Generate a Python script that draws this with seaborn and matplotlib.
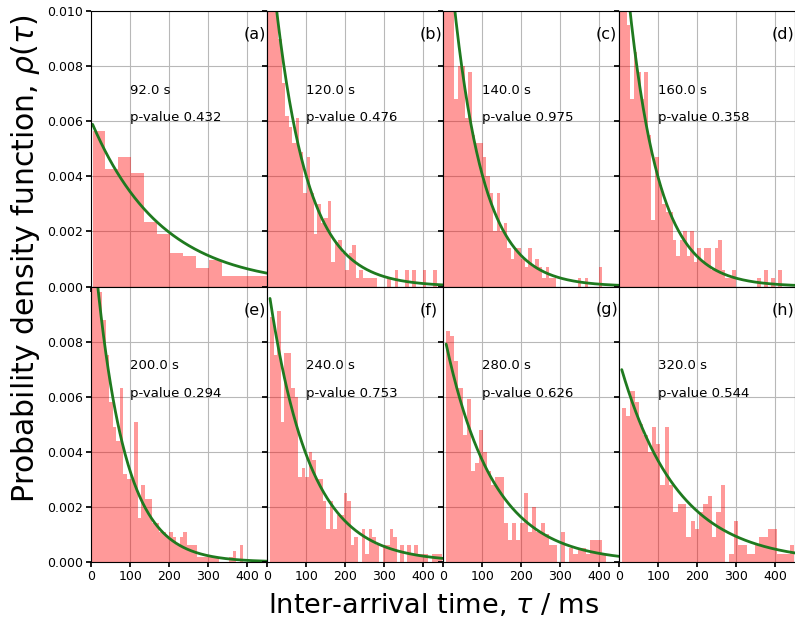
import numpy as np
import pandas as pd
import matplotlib
matplotlib.use("Agg")
import matplotlib.pyplot as plt
import seaborn as sns
from matplotlib.ticker import FormatStrFormatter

# Global style
sns.set_theme(style="whitegrid", rc={
    "axes.edgecolor": "black",
    "axes.linewidth": 0.8,
    "grid.color": "#b8b8b8",
    "grid.linewidth": 0.8,
    "xtick.bottom": True,
    "ytick.left": True,
    "xtick.major.size": 3.5,
    "ytick.major.size": 3.5,
    "xtick.color": "black",
    "ytick.color": "black",
    "text.color": "black",
    "axes.labelcolor": "black",
})
plt.rcParams["font.family"] = ["DejaVu Sans"]
plt.rcParams["mathtext.fontset"] = "dejavusans"

BAR_COLOR = "red"
FIT_COLOR = "#1f7a1f"

# Panel metadata
PANEL_TAGS = ["(a)", "(b)", "(c)", "(d)", "(e)", "(f)", "(g)", "(h)"]
WINDOWS_S = [92.0, 120.0, 140.0, 160.0, 200.0, 240.0, 280.0, 320.0]
P_VALUES = [0.432, 0.476, 0.975, 0.358, 0.294, 0.753, 0.626, 0.544]

# Histogram bins (first edge and width, ms)
BIN_START = [4.0, 2.0, 2.0, 2.0, 2.0, 7.6, 8.0, 7.0]
BIN_WIDTH = [33.0, 9.0, 9.0, 9.0, 9.0, 9.0, 10.5, 11.0]

# Histogram densities per panel
HEIGHTS_A = [0.00565, 0.00425, 0.00470, 0.00413, 0.00234, 0.00192, 0.00121,
             0.00109, 0.00068, 0.00095, 0.00039, 0.00039, 0.00039, 0.00039]
HEIGHTS_B = [0.0118, 0.0106, 0.0112, 0.0090, 0.0074, 0.0062, 0.0058, 0.0052,
             0.0061, 0.0049, 0.0034, 0.0047, 0.0034, 0.0019, 0.0030, 0.0023,
             0.0025, 0.0031, 0.0009, 0.0016, 0.0017, 0.0012, 0.0006, 0.0012,
             0.0015, 0.0003, 0.0006, 0.0003, 0.0003, 0.0003, 0.0003, 0.0,
             0.0, 0.0, 0.0003, 0.0, 0.0006, 0.0, 0.0, 0.0006, 0.0, 0.0006,
             0.0, 0.0, 0.0006, 0.0, 0.0, 0.0006, 0.0]
HEIGHTS_C = [0.0115, 0.0110, 0.0105, 0.0068, 0.0080, 0.0080, 0.0061, 0.0078,
             0.0055, 0.0052, 0.0052, 0.0047, 0.0040, 0.0034, 0.0020, 0.0034,
             0.0020, 0.0023, 0.0014, 0.0010, 0.0014, 0.0014, 0.0010, 0.0007,
             0.0014, 0.0007, 0.0010, 0.0007, 0.0003, 0.0007, 0.0003, 0.0003,
             0.0, 0.0, 0.0, 0.0, 0.0, 0.0, 0.0003, 0.0, 0.0003, 0.0, 0.0,
             0.0, 0.0007]
HEIGHTS_D = [0.0118, 0.0112, 0.0095, 0.0068, 0.0085, 0.0078, 0.0068, 0.0078,
             0.0055, 0.0024, 0.0047, 0.0037, 0.0030, 0.0027, 0.0027, 0.0017,
             0.0011, 0.0017, 0.0020, 0.0011, 0.0020, 0.0009, 0.0014, 0.0009,
             0.0014, 0.0014, 0.0006, 0.0014, 0.0017, 0.0006, 0.0003, 0.0003,
             0.0006, 0.0, 0.0, 0.0, 0.0, 0.0, 0.0, 0.0003, 0.0, 0.0006, 0.0,
             0.0003, 0.0, 0.0006]
HEIGHTS_E = [0.0120, 0.0110, 0.0098, 0.0088, 0.0075, 0.0058, 0.0049, 0.0044,
             0.0063, 0.0032, 0.0030, 0.0030, 0.0051, 0.0016, 0.0028, 0.0023,
             0.0023, 0.0014, 0.0014, 0.0011, 0.0011, 0.0009, 0.0011, 0.0009,
             0.0006, 0.0009, 0.0011, 0.0006, 0.0006, 0.0006, 0.0002, 0.0002,
             0.0002, 0.0002, 0.0002, 0.0002, 0.0, 0.0, 0.0, 0.0002, 0.0004,
             0.0, 0.0006]
HEIGHTS_F = [0.0089, 0.0075, 0.0091, 0.0051, 0.0076, 0.0076, 0.0063, 0.0060,
             0.0031, 0.0034, 0.0031, 0.0040, 0.0037, 0.0030, 0.0030, 0.0022,
             0.0012, 0.0022, 0.0012, 0.0017, 0.0017, 0.0025, 0.0022, 0.0006,
             0.0009, 0.0, 0.0012, 0.0003, 0.0012, 0.0009, 0.0006, 0.0,
             0.0006, 0.0006, 0.0012, 0.0009, 0.0, 0.0006, 0.0, 0.0006, 0.0003,
             0.0006, 0.0003, 0.0003, 0.0003, 0.0, 0.0003, 0.0003, 0.0003]
HEIGHTS_G = [0.0084, 0.0082, 0.0073, 0.0063, 0.0046, 0.0059, 0.0033, 0.0036,
             0.0048, 0.0040, 0.0033, 0.0028, 0.0031, 0.0031, 0.0014, 0.0008,
             0.0014, 0.0008, 0.0014, 0.0025, 0.0011, 0.0020, 0.0011, 0.0014,
             0.0010, 0.0006, 0.0006, 0.0, 0.0011, 0.0, 0.0005, 0.0003, 0.0005,
             0.0005, 0.0003, 0.0008, 0.0008, 0.0008, 0.0003]
HEIGHTS_H = [0.0056, 0.0053, 0.0062, 0.0058, 0.0050, 0.0046, 0.0040, 0.0049,
             0.0043, 0.0028, 0.0049, 0.0028, 0.0018, 0.0021, 0.0021, 0.0009,
             0.0015, 0.0012, 0.0018, 0.0021, 0.0024, 0.0009, 0.0018, 0.0028,
             0.0, 0.0003, 0.0015, 0.0006, 0.0006, 0.0003, 0.0003, 0.0006,
             0.0009, 0.0009, 0.0012, 0.0012, 0.0003, 0.0003, 0.0003, 0.0006]
HEIGHTS = [HEIGHTS_A, HEIGHTS_B, HEIGHTS_C, HEIGHTS_D,
           HEIGHTS_E, HEIGHTS_F, HEIGHTS_G, HEIGHTS_H]

# Exponential fit A * exp(-k * tau)
FIT_AMP = [0.00602, 0.0135, 0.0148, 0.0144, 0.0126, 0.0103, 0.00845, 0.00733]
FIT_RATE = [0.0056, 0.0121, 0.0129, 0.0129, 0.0134, 0.0097, 0.00825, 0.0069]

X_MAX = 450
Y_MAX = 0.010

fig = plt.figure(figsize=(7.95, 6.26), dpi=100)
gs = fig.add_gridspec(2, 4, left=0.1145, right=1.0, top=0.9824, bottom=0.1022,
                      wspace=0, hspace=0)

for i in range(8):
    row, col = divmod(i, 4)
    ax = fig.add_subplot(gs[row, col])
    ax.set_axisbelow(True)

    heights = np.array(HEIGHTS[i])
    n_bins = len(heights)
    lo = BIN_START[i]
    hi = lo + BIN_WIDTH[i] * n_bins
    hist_df = pd.DataFrame({"tau": lo + BIN_WIDTH[i] * (np.arange(n_bins) + 0.5),
                            "density": heights})
    sns.histplot(data=hist_df, x="tau", weights="density", bins=n_bins,
                 binrange=(lo, hi), ax=ax, color=BAR_COLOR, alpha=0.4,
                 linewidth=0, stat="count")

    tau = np.linspace(BIN_START[i], X_MAX, 300)
    fit = FIT_AMP[i] * np.exp(-FIT_RATE[i] * tau)
    sns.lineplot(x=tau, y=fit, ax=ax, color=FIT_COLOR, linewidth=2)

    ax.set_xlim(0, X_MAX)
    ax.set_ylim(0, Y_MAX)
    ax.set_xticks([0, 100, 200, 300, 400])
    if row == 0:
        ax.set_yticks([0, 0.002, 0.004, 0.006, 0.008, 0.010])
    else:
        ax.set_yticks([0, 0.002, 0.004, 0.006, 0.008])
    ax.yaxis.set_major_formatter(FormatStrFormatter("%.3f"))
    ax.tick_params(labelsize=9, pad=2)
    ax.tick_params(labelleft=(col == 0), labelbottom=(row == 1))
    ax.set_xlabel("")
    ax.set_ylabel("")
    ax.grid(True)

    ax.text(100, 0.007, f"{WINDOWS_S[i]:.1f} s", fontsize=9.5)
    ax.text(100, 0.006, f"p-value {P_VALUES[i]:.3f}", fontsize=9.5)
    ax.text(390, 0.009, PANEL_TAGS[i], fontsize=11.5)

fig.text(434 / 795, 1 - 606 / 626, r"Inter-arrival time, $\tau$ / ms",
         ha="center", va="center", fontsize=19.5)
fig.text(26 / 795, 1 - 259 / 626, r"Probability density function, $\rho(\tau)$",
         ha="center", va="center", rotation=90, fontsize=21.5)

fig.savefig("out.png", dpi=100)
plt.close(fig)
